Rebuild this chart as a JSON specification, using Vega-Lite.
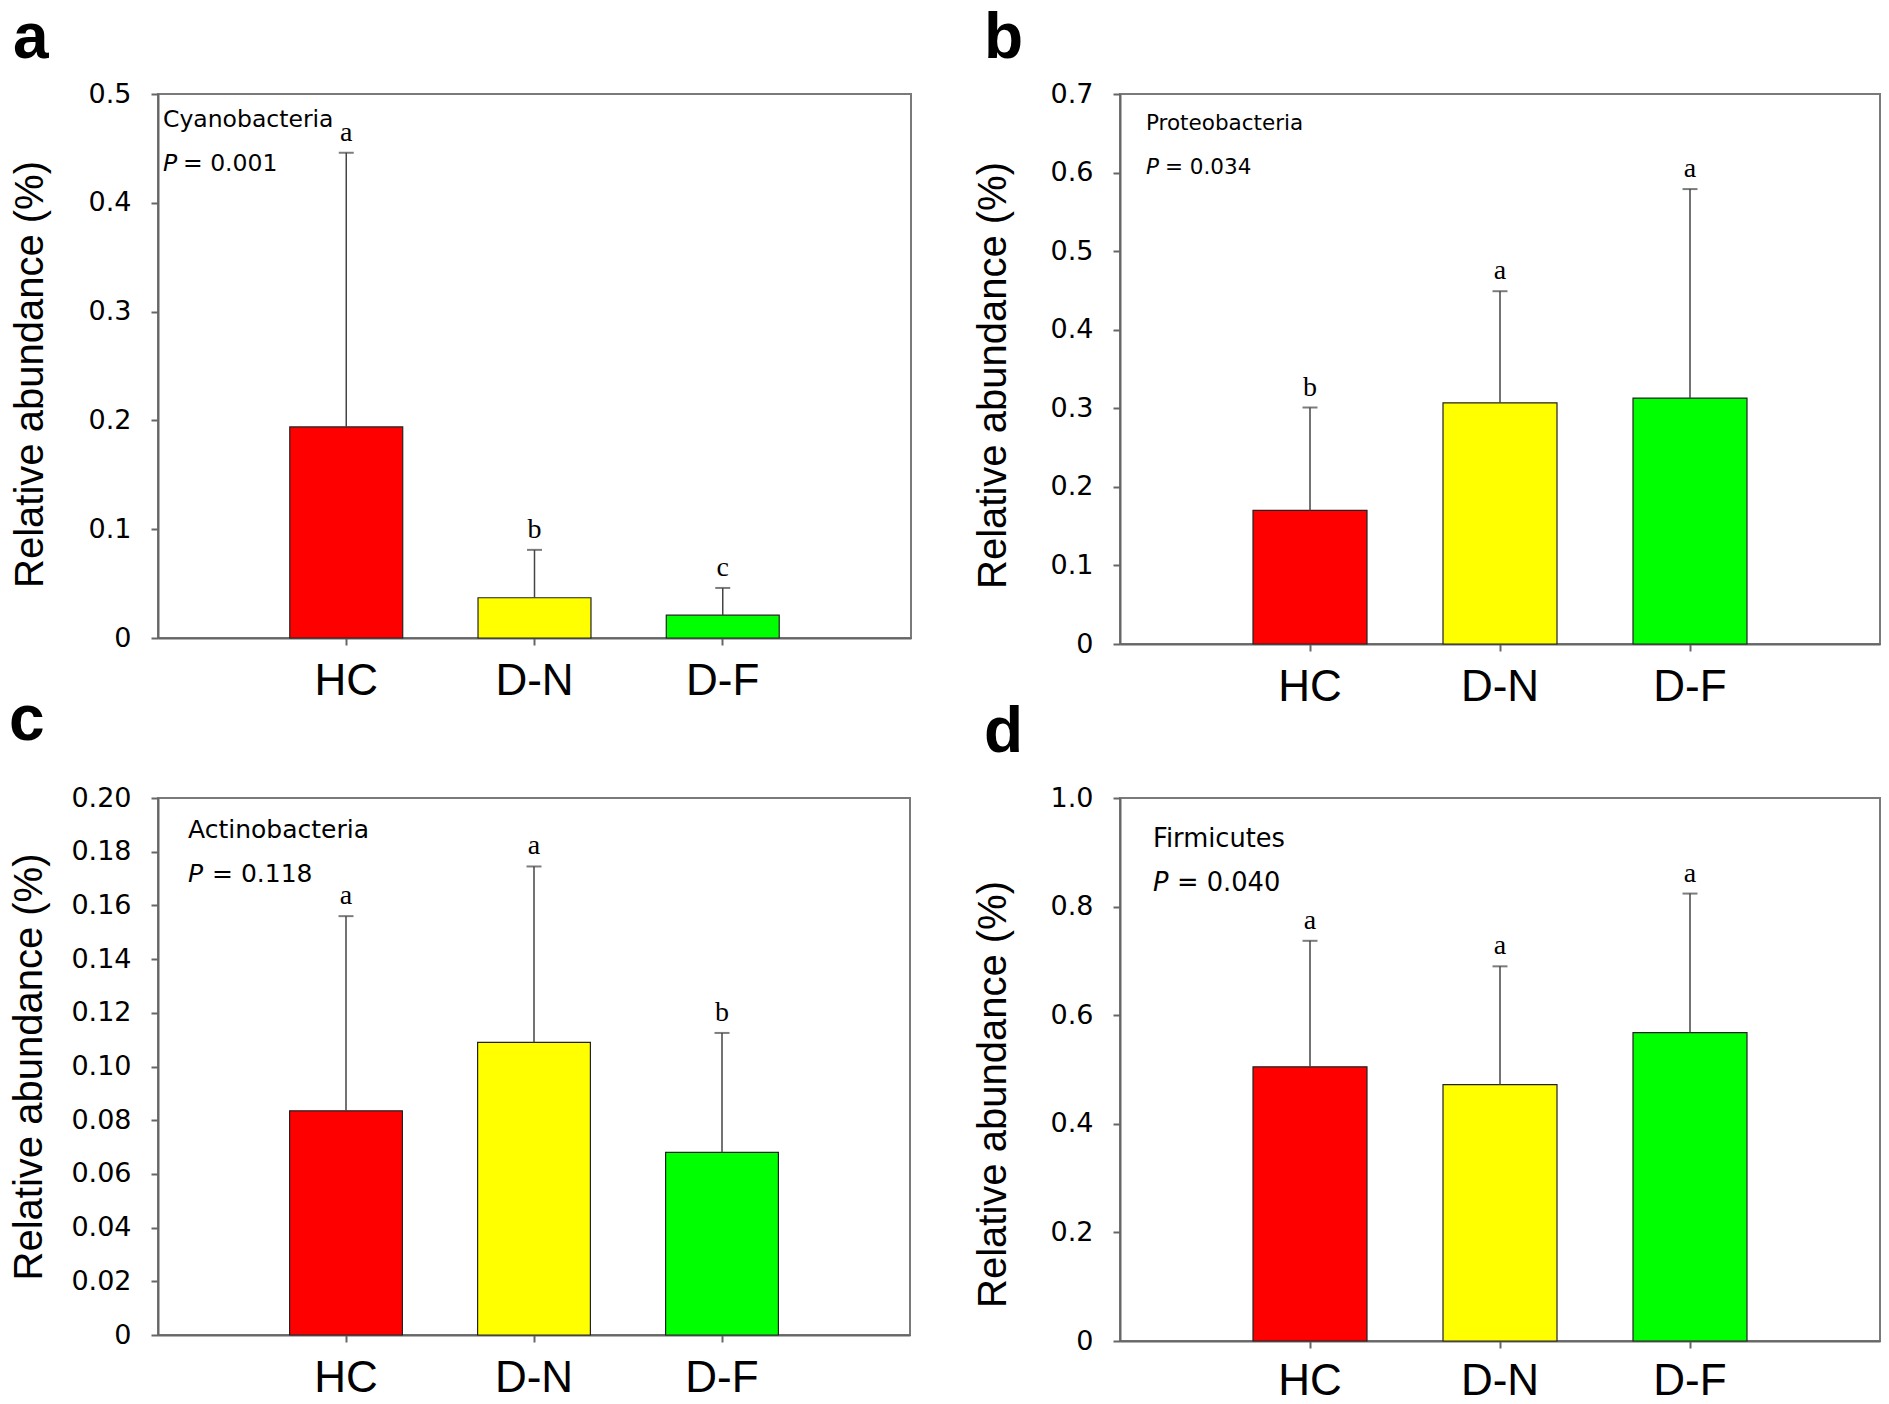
{
  "$schema": "https://vega.github.io/schema/vega-lite/v6.json",
  "background": "white",
  "padding": {"left": 7, "top": 6, "right": 5, "bottom": 0},
  "config": {
    "view": {"stroke": "#7a7a7a", "strokeWidth": 2},
    "axis": {"domainColor": "#666666", "domainWidth": 2, "tickColor": "#666666", "tickWidth": 2, "tickSize": 7, "grid": false, "labelColor": "black", "titleColor": "black"},
    "axisX": {"labelFont": "Liberation Sans", "labelFontSize": 44, "labelPadding": 14, "labelAngle": 0},
    "axisY": {"labelFont": "DejaVu Sans", "labelFontSize": 27, "labelPadding": 20, "titleFont": "Liberation Sans", "titleFontSize": 40, "titleFontWeight": "normal"},
    "title": {"font": "Liberation Sans", "fontSize": 64, "fontWeight": "bold", "anchor": "start", "frame": "bounds", "color": "black"}
  },
  "datasets": {
    "cyano": [
      {"group": "HC", "mean": 0.194, "upper": 0.446, "sig": "a"},
      {"group": "D-N", "mean": 0.037, "upper": 0.081, "sig": "b"},
      {"group": "D-F", "mean": 0.021, "upper": 0.046, "sig": "c"}
    ],
    "proteo": [
      {"group": "HC", "mean": 0.170, "upper": 0.301, "sig": "b"},
      {"group": "D-N", "mean": 0.307, "upper": 0.449, "sig": "a"},
      {"group": "D-F", "mean": 0.313, "upper": 0.579, "sig": "a"}
    ],
    "actino": [
      {"group": "HC", "mean": 0.0835, "upper": 0.156, "sig": "a"},
      {"group": "D-N", "mean": 0.109, "upper": 0.1745, "sig": "a"},
      {"group": "D-F", "mean": 0.068, "upper": 0.1125, "sig": "b"}
    ],
    "firmi": [
      {"group": "HC", "mean": 0.505, "upper": 0.737, "sig": "a"},
      {"group": "D-N", "mean": 0.472, "upper": 0.690, "sig": "a"},
      {"group": "D-F", "mean": 0.568, "upper": 0.824, "sig": "a"}
    ],
    "notes": [
      {"panel": "a", "taxon": "Cyanobacteria", "plabel": "P", "pvalue": "= 0.001"},
      {"panel": "b", "taxon": "Proteobacteria", "plabel": "P", "pvalue": "= 0.034"},
      {"panel": "c", "taxon": "Actinobacteria", "plabel": "P", "pvalue": "= 0.118"},
      {"panel": "d", "taxon": "Firmicutes", "plabel": "P", "pvalue": "= 0.040"}
    ]
  },
  "resolve": {"scale": {"x": "independent", "y": "independent"}},
  "spacing": 60,
  "hconcat": [
    {
      "spacing": -16,
      "resolve": {"scale": {"x": "independent", "y": "independent"}},
      "vconcat": [
        {
          "title": {"text": "a", "offset": 9, "dx": 3},
          "width": 753, "height": 544,
          "data": {"name": "cyano"},
          "encoding": {"x": {"field": "group", "type": "nominal", "sort": null, "title": null, "scale": {"domain": ["HC", "D-N", "D-F"], "paddingInner": 0.4, "paddingOuter": 0.7}}},
          "layer": [
            {"mark": {"type": "bar", "stroke": "#222222", "strokeWidth": 1.2},
             "encoding": {"y": {"field": "mean", "type": "quantitative", "title": "Relative abundance (%)", "scale": {"domain": [0, 0.5], "nice": false}, "axis": {"values": [0, 0.1, 0.2, 0.3, 0.4, 0.5], "labelExpr": "datum.value == 0 ? '0' : format(datum.value, '.1f')", "titlePadding": 38, "titleY": 280}},
               "color": {"field": "group", "type": "nominal", "legend": null, "scale": {"domain": ["HC", "D-N", "D-F"], "range": ["#ff0000", "#ffff00", "#00ff00"]}}}},
            {"mark": {"type": "rule", "color": "#444444", "strokeWidth": 1.5}, "encoding": {"y": {"field": "mean", "type": "quantitative", "title": "Relative abundance (%)"}, "y2": {"field": "upper"}}},
            {"mark": {"type": "tick", "color": "#444444", "thickness": 2, "size": 15, "orient": "horizontal"}, "encoding": {"y": {"field": "upper", "type": "quantitative", "title": "Relative abundance (%)"}}},
            {"mark": {"type": "text", "font": "Liberation Serif", "fontSize": 28, "baseline": "bottom", "dy": -6}, "encoding": {"y": {"field": "upper", "type": "quantitative", "title": "Relative abundance (%)"}, "text": {"field": "sig"}}},
            {"data": {"name": "notes"}, "transform": [{"filter": "datum.panel == 'a'"}], "mark": {"type": "text", "font": "DejaVu Sans", "fontSize": 23.5, "align": "left", "baseline": "alphabetic", "dx": 5}, "encoding": {"x": {"value": 0}, "y": {"datum": 0.47}, "text": {"field": "taxon"}}},
            {"data": {"name": "notes"}, "transform": [{"filter": "datum.panel == 'a'"}], "mark": {"type": "text", "font": "DejaVu Sans", "fontSize": 23.5, "fontStyle": "italic", "align": "left", "baseline": "alphabetic", "dx": 5}, "encoding": {"x": {"value": 0}, "y": {"datum": 0.429}, "text": {"field": "plabel"}}},
            {"data": {"name": "notes"}, "transform": [{"filter": "datum.panel == 'a'"}], "mark": {"type": "text", "font": "DejaVu Sans", "fontSize": 23.5, "align": "left", "baseline": "alphabetic", "dx": 25}, "encoding": {"x": {"value": 0}, "y": {"datum": 0.429}, "text": {"field": "pvalue"}}}
          ]
        },
        {
          "title": {"text": "c", "offset": 31, "dx": -1},
          "width": 752, "height": 537,
          "data": {"name": "actino"},
          "encoding": {"x": {"field": "group", "type": "nominal", "sort": null, "title": null, "scale": {"domain": ["HC", "D-N", "D-F"], "paddingInner": 0.4, "paddingOuter": 0.7}}},
          "layer": [
            {"mark": {"type": "bar", "stroke": "#222222", "strokeWidth": 1.2},
             "encoding": {"y": {"field": "mean", "type": "quantitative", "title": "Relative abundance (%)", "scale": {"domain": [0, 0.2], "nice": false}, "axis": {"values": [0, 0.02, 0.04, 0.06, 0.08, 0.1, 0.12, 0.14, 0.16, 0.18, 0.2], "labelExpr": "datum.value == 0 ? '0' : format(datum.value, '.2f')", "titlePadding": 21}},
               "color": {"field": "group", "type": "nominal", "legend": null, "scale": {"domain": ["HC", "D-N", "D-F"], "range": ["#ff0000", "#ffff00", "#00ff00"]}}}},
            {"mark": {"type": "rule", "color": "#444444", "strokeWidth": 1.5}, "encoding": {"y": {"field": "mean", "type": "quantitative", "title": "Relative abundance (%)"}, "y2": {"field": "upper"}}},
            {"mark": {"type": "tick", "color": "#444444", "thickness": 2, "size": 15, "orient": "horizontal"}, "encoding": {"y": {"field": "upper", "type": "quantitative", "title": "Relative abundance (%)"}}},
            {"mark": {"type": "text", "font": "Liberation Serif", "fontSize": 28, "baseline": "bottom", "dy": -6}, "encoding": {"y": {"field": "upper", "type": "quantitative", "title": "Relative abundance (%)"}, "text": {"field": "sig"}}},
            {"data": {"name": "notes"}, "transform": [{"filter": "datum.panel == 'c'"}], "mark": {"type": "text", "font": "DejaVu Sans", "fontSize": 25, "align": "left", "baseline": "alphabetic", "dx": 30}, "encoding": {"x": {"value": 0}, "y": {"datum": 0.185}, "text": {"field": "taxon"}}},
            {"data": {"name": "notes"}, "transform": [{"filter": "datum.panel == 'c'"}], "mark": {"type": "text", "font": "DejaVu Sans", "fontSize": 25, "fontStyle": "italic", "align": "left", "baseline": "alphabetic", "dx": 30}, "encoding": {"x": {"value": 0}, "y": {"datum": 0.1687}, "text": {"field": "plabel"}}},
            {"data": {"name": "notes"}, "transform": [{"filter": "datum.panel == 'c'"}], "mark": {"type": "text", "font": "DejaVu Sans", "fontSize": 25, "align": "left", "baseline": "alphabetic", "dx": 54}, "encoding": {"x": {"value": 0}, "y": {"datum": 0.1687}, "text": {"field": "pvalue"}}}
          ]
        }
      ]
    },
    {
      "spacing": -10,
      "resolve": {"scale": {"x": "independent", "y": "independent"}},
      "vconcat": [
        {
          "title": {"text": "b", "offset": 9, "dx": 11},
          "width": 760, "height": 550,
          "data": {"name": "proteo"},
          "encoding": {"x": {"field": "group", "type": "nominal", "sort": null, "title": null, "scale": {"domain": ["HC", "D-N", "D-F"], "paddingInner": 0.4, "paddingOuter": 0.7}}},
          "layer": [
            {"mark": {"type": "bar", "stroke": "#222222", "strokeWidth": 1.2},
             "encoding": {"y": {"field": "mean", "type": "quantitative", "title": "Relative abundance (%)", "scale": {"domain": [0, 0.7], "nice": false}, "axis": {"values": [0, 0.1, 0.2, 0.3, 0.4, 0.5, 0.6, 0.7], "labelExpr": "datum.value == 0 ? '0' : format(datum.value, '.1f')", "titlePadding": 37, "titleY": 281}},
               "color": {"field": "group", "type": "nominal", "legend": null, "scale": {"domain": ["HC", "D-N", "D-F"], "range": ["#ff0000", "#ffff00", "#00ff00"]}}}},
            {"mark": {"type": "rule", "color": "#444444", "strokeWidth": 1.5}, "encoding": {"y": {"field": "mean", "type": "quantitative", "title": "Relative abundance (%)"}, "y2": {"field": "upper"}}},
            {"mark": {"type": "tick", "color": "#444444", "thickness": 2, "size": 15, "orient": "horizontal"}, "encoding": {"y": {"field": "upper", "type": "quantitative", "title": "Relative abundance (%)"}}},
            {"mark": {"type": "text", "font": "Liberation Serif", "fontSize": 28, "baseline": "bottom", "dy": -6}, "encoding": {"y": {"field": "upper", "type": "quantitative", "title": "Relative abundance (%)"}, "text": {"field": "sig"}}},
            {"data": {"name": "notes"}, "transform": [{"filter": "datum.panel == 'b'"}], "mark": {"type": "text", "font": "DejaVu Sans", "fontSize": 21.5, "align": "left", "baseline": "alphabetic", "dx": 26}, "encoding": {"x": {"value": 0}, "y": {"datum": 0.654}, "text": {"field": "taxon"}}},
            {"data": {"name": "notes"}, "transform": [{"filter": "datum.panel == 'b'"}], "mark": {"type": "text", "font": "DejaVu Sans", "fontSize": 21.5, "fontStyle": "italic", "align": "left", "baseline": "alphabetic", "dx": 26}, "encoding": {"x": {"value": 0}, "y": {"datum": 0.598}, "text": {"field": "plabel"}}},
            {"data": {"name": "notes"}, "transform": [{"filter": "datum.panel == 'b'"}], "mark": {"type": "text", "font": "DejaVu Sans", "fontSize": 21.5, "align": "left", "baseline": "alphabetic", "dx": 45}, "encoding": {"x": {"value": 0}, "y": {"datum": 0.598}, "text": {"field": "pvalue"}}}
          ]
        },
        {
          "title": {"text": "d", "offset": 19, "dx": 11},
          "width": 760, "height": 543,
          "data": {"name": "firmi"},
          "encoding": {"x": {"field": "group", "type": "nominal", "sort": null, "title": null, "scale": {"domain": ["HC", "D-N", "D-F"], "paddingInner": 0.4, "paddingOuter": 0.7}, "axis": {"labelPadding": 11}}},
          "layer": [
            {"mark": {"type": "bar", "stroke": "#222222", "strokeWidth": 1.2},
             "encoding": {"y": {"field": "mean", "type": "quantitative", "title": "Relative abundance (%)", "scale": {"domain": [0, 1], "nice": false}, "axis": {"values": [0, 0.2, 0.4, 0.6, 0.8, 1.0], "labelExpr": "datum.value == 0 ? '0' : format(datum.value, '.1f')", "titlePadding": 37, "titleY": 296}},
               "color": {"field": "group", "type": "nominal", "legend": null, "scale": {"domain": ["HC", "D-N", "D-F"], "range": ["#ff0000", "#ffff00", "#00ff00"]}}}},
            {"mark": {"type": "rule", "color": "#444444", "strokeWidth": 1.5}, "encoding": {"y": {"field": "mean", "type": "quantitative", "title": "Relative abundance (%)"}, "y2": {"field": "upper"}}},
            {"mark": {"type": "tick", "color": "#444444", "thickness": 2, "size": 15, "orient": "horizontal"}, "encoding": {"y": {"field": "upper", "type": "quantitative", "title": "Relative abundance (%)"}}},
            {"mark": {"type": "text", "font": "Liberation Serif", "fontSize": 28, "baseline": "bottom", "dy": -6}, "encoding": {"y": {"field": "upper", "type": "quantitative", "title": "Relative abundance (%)"}, "text": {"field": "sig"}}},
            {"data": {"name": "notes"}, "transform": [{"filter": "datum.panel == 'd'"}], "mark": {"type": "text", "font": "DejaVu Sans", "fontSize": 25.7, "align": "left", "baseline": "alphabetic", "dx": 33}, "encoding": {"x": {"value": 0}, "y": {"datum": 0.91}, "text": {"field": "taxon"}}},
            {"data": {"name": "notes"}, "transform": [{"filter": "datum.panel == 'd'"}], "mark": {"type": "text", "font": "DejaVu Sans", "fontSize": 25.7, "fontStyle": "italic", "align": "left", "baseline": "alphabetic", "dx": 33}, "encoding": {"x": {"value": 0}, "y": {"datum": 0.829}, "text": {"field": "plabel"}}},
            {"data": {"name": "notes"}, "transform": [{"filter": "datum.panel == 'd'"}], "mark": {"type": "text", "font": "DejaVu Sans", "fontSize": 25.7, "align": "left", "baseline": "alphabetic", "dx": 57}, "encoding": {"x": {"value": 0}, "y": {"datum": 0.829}, "text": {"field": "pvalue"}}}
          ]
        }
      ]
    }
  ]
}
